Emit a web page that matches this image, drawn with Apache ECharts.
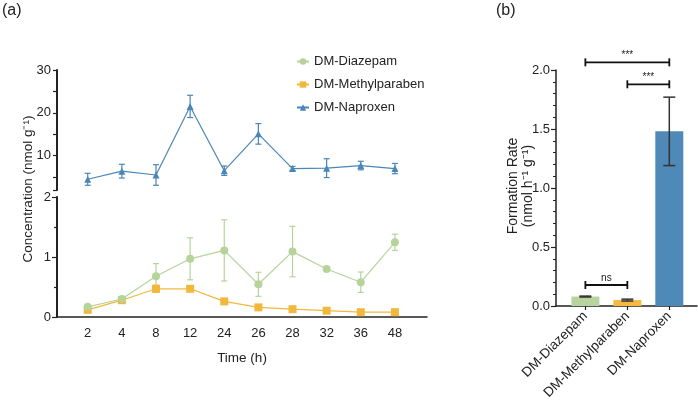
<!DOCTYPE html>
<html>
<head>
<meta charset="utf-8">
<script src="https://cdn.jsdelivr.net/npm/echarts@6/dist/echarts.min.js"></script>
<style>
html,body{margin:0;padding:0;background:#fff;}
#main{width:698px;height:401px;}
</style>
</head>
<body>
<div id="main"></div>
<script>
// ---- Panel (a) data ----
const timeLabels = ['2','4','8','12','24','26','28','32','36','48'];
const diazepam = [0.17, 0.30, 0.68, 0.97, 1.11, 0.545, 1.09, 0.80, 0.58, 1.245];
const diazepamErr = [0.02, 0.02, 0.21, 0.35, 0.51, 0.20, 0.42, 0.02, 0.17, 0.135];
const methylparaben = [0.12, 0.28, 0.47, 0.47, 0.26, 0.16, 0.13, 0.105, 0.08, 0.08];
const methylparabenErr = [0.02, 0.02, 0.06, 0.02, 0.01, 0.01, 0.01, 0.01, 0.01, 0.01];
const naproxen = [4.5, 6.4, 5.5, 21.5, 6.5, 15.1, 7.0, 7.1, 7.7, 7.0];
const naproxenErr = [1.4, 1.6, 2.4, 2.6, 1.1, 2.4, 0.5, 2.2, 1.0, 1.2];

// ---- Panel (b) data ----
const compounds = ['DM-Diazepam', 'DM-Methylparaben', 'DM-Naproxen'];
const rates = [0.08, 0.05, 1.48];
const rateErr = [0.004, 0.008, 0.29];
const sigPairs = [[0, 2, 2.065], [1, 2, 1.879], [0, 1, 0.178]];
const sigLabels = ['***', '***', 'ns'];

const cGreen = '#b7d39c';
const cYellow = '#f2b83c';
const cBlue = '#4a86b7';
const barColors = ['#b8d49e', '#f3b943', '#4f89b8'];
const FONT = '"Liberation Sans", Arial, sans-serif';
const axisCol = '#222';

const chart = echarts.init(document.getElementById('main'), null, {renderer: 'canvas'});

function idx(arr) { return arr.map((v, i) => [i, v]); }
function errData(vals, errs) { return vals.map((v, i) => [i, v - errs[i], v + errs[i]]); }

function errRender(capHalf, color, lw) {
  return function (params, api) {
    const x = api.value(0), lo = api.value(1), hi = api.value(2);
    const p1 = api.coord([x, hi]), p2 = api.coord([x, lo]);
    const st = {stroke: color, lineWidth: lw};
    return {type: 'group', children: [
      {type: 'line', shape: {x1: p1[0], y1: p1[1], x2: p2[0], y2: p2[1]}, style: st},
      {type: 'line', shape: {x1: p1[0] - capHalf, y1: p1[1], x2: p1[0] + capHalf, y2: p1[1]}, style: st},
      {type: 'line', shape: {x1: p2[0] - capHalf, y1: p2[1], x2: p2[0] + capHalf, y2: p2[1]}, style: st}
    ]};
  };
}

const axisLabelStyle = {color: axisCol, fontSize: 13, fontFamily: FONT};

const option = {
  animation: false,
  backgroundColor: '#fff',
  textStyle: {fontFamily: FONT},
  legend: {
    left: 291, top: 50, orient: 'vertical', itemGap: 10,
    itemWidth: 12, itemHeight: 8,
    textStyle: {fontSize: 13, color: '#222', fontFamily: FONT},
    data: ['DM-Diazepam', 'DM-Methylparaben', 'DM-Naproxen']
  },
  graphic: [
    {type: 'text', left: 2, top: 3, style: {text: '(a)', fontSize: 16, fill: '#222', fontFamily: FONT}},
    {type: 'text', left: 496, top: 3, style: {text: '(b)', fontSize: 16, fill: '#222', fontFamily: FONT}},
    {type: 'text', x: 28, y: 189, rotation: Math.PI / 2,
      style: {text: 'Concentration (nmol g⁻¹)', fontSize: 13.5, fill: '#222', fontFamily: FONT, textAlign: 'center', textVerticalAlign: 'middle'}},
    {type: 'text', x: 521, y: 186, rotation: Math.PI / 2,
      style: {text: 'Formation Rate\n(nmol h⁻¹ g⁻¹)', fontSize: 14, lineHeight: 15, fill: '#222', fontFamily: FONT, textAlign: 'center', textVerticalAlign: 'middle'}}
  ],
  grid: [
    {left: 57, top: 70, width: 370, height: 120, outerBoundsMode: 'none', containLabel: false},
    {left: 57, top: 197, width: 370, height: 120, outerBoundsMode: 'none', containLabel: false},
    {left: 556, top: 70, width: 141, height: 236, outerBoundsMode: 'none', containLabel: false}
  ],
  xAxis: [
    {gridIndex: 0, type: 'value', min: -0.9, max: 9.94, show: false},
    {gridIndex: 1, type: 'value', min: -0.9, max: 9.94,
      axisLine: {show: true, onZero: false, lineStyle: {color: axisCol, width: 1.5}},
      axisTick: {show: false},
      splitLine: {show: false},
      axisLabel: Object.assign({}, axisLabelStyle, {margin: 10, customValues: [0,1,2,3,4,5,6,7,8,9],
        formatter: v => timeLabels[Math.round(v)] || ''}),
      name: 'Time (h)', nameLocation: 'middle', nameGap: 34,
      nameTextStyle: {fontSize: 13.5, color: '#222', fontFamily: FONT}
    },
    {gridIndex: 2, type: 'value', min: -0.7, max: 2.66,
      axisLine: {show: true, onZero: false, lineStyle: {color: axisCol, width: 1.5}},
      axisTick: {show: true, customValues: [0, 1, 2], length: 4, lineStyle: {color: axisCol, width: 1.2}},
      splitLine: {show: false},
      axisLabel: Object.assign({}, axisLabelStyle, {fontSize: 13.5, margin: 8, rotate: 45, customValues: [0, 1, 2],
        formatter: v => compounds[Math.round(v)] || ''})
    }
  ],
  yAxis: [
    {gridIndex: 0, type: 'value', min: 2, max: 30,
      axisLine: {show: true, onZero: false, lineStyle: {color: axisCol, width: 2}},
      axisTick: {show: true, customValues: [2, 5, 10, 15, 20, 25, 30], length: 4, lineStyle: {color: axisCol, width: 1.2}},
      axisLabel: Object.assign({}, axisLabelStyle, {margin: 6, customValues: [10, 20, 30]}),
      splitLine: {show: false}
    },
    {gridIndex: 1, type: 'value', min: 0, max: 2, interval: 1,
      axisLine: {show: true, onZero: false, lineStyle: {color: axisCol, width: 2}},
      axisTick: {show: true, length: 5, lineStyle: {color: axisCol, width: 1.2}},
      minorTick: {show: true, splitNumber: 2, length: 3, lineStyle: {color: axisCol, width: 1.2}},
      axisLabel: Object.assign({}, axisLabelStyle, {margin: 6}),
      splitLine: {show: false}
    },
    {gridIndex: 2, type: 'value', min: 0, max: 2, interval: 0.5,
      axisLine: {show: true, onZero: false, lineStyle: {color: axisCol, width: 1.5}},
      axisTick: {show: true, length: 5, lineStyle: {color: axisCol, width: 1.2}},
      minorTick: {show: true, splitNumber: 5, length: 3, lineStyle: {color: axisCol, width: 1}},
      axisLabel: Object.assign({}, axisLabelStyle, {margin: 6, formatter: v => v.toFixed(1)}),
      splitLine: {show: false}
    }
  ],
  series: [
    {type: 'custom', xAxisIndex: 0, yAxisIndex: 0, renderItem: errRender(3, cBlue, 1.2),
      data: errData(naproxen, naproxenErr), encode: {x: 0, y: [1, 2]}, z: 2, silent: true},
    {type: 'custom', xAxisIndex: 1, yAxisIndex: 1, renderItem: errRender(3, cYellow, 1.2),
      data: errData(methylparaben, methylparabenErr), encode: {x: 0, y: [1, 2]}, z: 2, silent: true},
    {type: 'custom', xAxisIndex: 1, yAxisIndex: 1, renderItem: errRender(3, cGreen, 1.2),
      data: errData(diazepam, diazepamErr), encode: {x: 0, y: [1, 2]}, z: 2, silent: true},
    {name: 'DM-Methylparaben', type: 'line', xAxisIndex: 1, yAxisIndex: 1, data: idx(methylparaben),
      symbol: 'rect', symbolSize: 8, color: cYellow, lineStyle: {width: 1.2, color: cYellow},
      itemStyle: {color: cYellow}, z: 3},
    {name: 'DM-Diazepam', type: 'line', xAxisIndex: 1, yAxisIndex: 1, data: idx(diazepam),
      symbol: 'circle', symbolSize: 8, color: cGreen, lineStyle: {width: 1.2, color: cGreen},
      itemStyle: {color: cGreen}, z: 4},
    {name: 'DM-Naproxen', type: 'line', xAxisIndex: 0, yAxisIndex: 0, data: idx(naproxen),
      symbol: 'triangle', symbolSize: 7, color: cBlue, lineStyle: {width: 1.2, color: cBlue},
      itemStyle: {color: cBlue}, z: 3},
    {type: 'bar', xAxisIndex: 2, yAxisIndex: 2, barWidth: 28,
      data: rates.map((v, i) => ({value: [i, v], itemStyle: {color: barColors[i]}})), z: 2},
    {type: 'custom', xAxisIndex: 2, yAxisIndex: 2, renderItem: errRender(6, '#333', 1.5),
      data: errData(rates, rateErr), encode: {x: 0, y: [1, 2]}, z: 5, silent: true},
    {type: 'custom', xAxisIndex: 2, yAxisIndex: 2,
      renderItem: function (params, api) {
        const a = api.coord([api.value(0), api.value(2)]);
        const b = api.coord([api.value(1), api.value(2)]);
        const st = {stroke: '#111', lineWidth: 1.8};
        return {type: 'group', children: [
          {type: 'line', shape: {x1: a[0], y1: a[1], x2: b[0], y2: b[1]}, style: st},
          {type: 'line', shape: {x1: a[0], y1: a[1] - 4, x2: a[0], y2: a[1] + 4}, style: st},
          {type: 'line', shape: {x1: b[0], y1: b[1] - 4, x2: b[0], y2: b[1] + 4}, style: st},
          {type: 'text', x: (a[0] + b[0]) / 2, y: a[1] - 2,
            style: {text: sigLabels[params.dataIndex], fontSize: 10, fill: '#222', fontFamily: FONT,
              textAlign: 'center', textVerticalAlign: 'bottom'}}
        ]};
      },
      data: sigPairs, encode: {x: [0, 1], y: 2}, z: 6, silent: true, clip: false}
  ]
};
chart.setOption(option);
</script>
</body>
</html>
